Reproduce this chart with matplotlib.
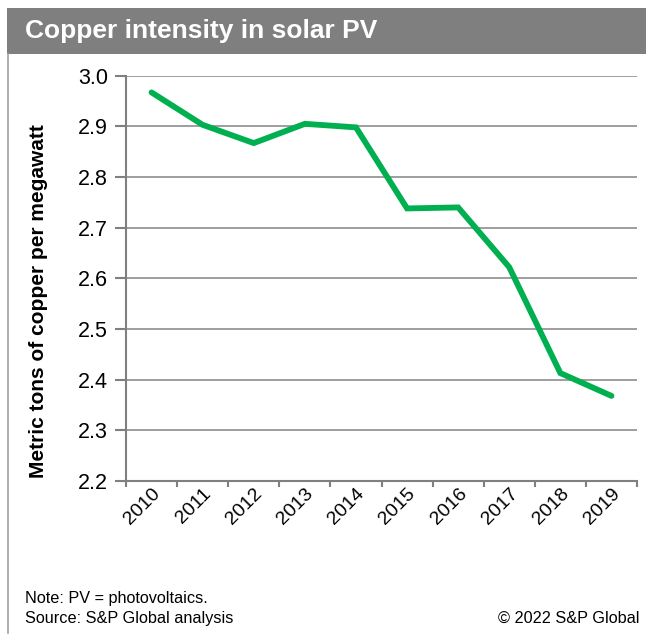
import matplotlib
matplotlib.use("agg")
import matplotlib.pyplot as plt
from matplotlib.patches import Rectangle
from matplotlib.lines import Line2D

plt.rcParams["font.family"] = ["Liberation Sans", "DejaVu Sans"]

# Data
years = ["2010", "2011", "2012", "2013", "2014", "2015", "2016", "2017", "2018", "2019"]
copper = [2.967, 2.903, 2.867, 2.905, 2.898, 2.738, 2.740, 2.622, 2.413, 2.368]
y_ticks = [2.2, 2.3, 2.4, 2.5, 2.6, 2.7, 2.8, 2.9, 3.0]

grey = "#808080"

fig = plt.figure(figsize=(6.46, 6.37), dpi=100)

# Title bar and frame
fig.patches.append(Rectangle((7 / 646, 1 - 54 / 637), 1, 46 / 637,
                             transform=fig.transFigure, facecolor="#7f7f7f",
                             edgecolor="none"))
fig.lines.append(Line2D([8 / 646, 8 / 646], [1 - 54 / 637, 1 - 633 / 637],
                        transform=fig.transFigure, color="#a0a0a0", lw=1.2))
fig.text(25 / 646, 1 - 31 / 637, "Copper intensity in solar PV", color="white",
         fontsize=19, fontweight="bold", va="center", ha="left")

ax = fig.add_axes([126 / 646, 1 - 481 / 637, 511 / 646, 405.3 / 637])
x = range(len(years))
ax.plot(x, copper, color="#00b050", lw=4.2, solid_capstyle="round",
        solid_joinstyle="miter")

ax.set_xlim(-0.5, len(years) - 0.5)
ax.set_ylim(2.2, 3.0)
ax.set_yticks(y_ticks)
ax.set_yticklabels([f"{v:.1f}" for v in y_ticks], fontsize=15.5)
ax.set_xticks([i - 0.5 for i in range(len(years) + 1)])
ax.set_xticklabels([])
ax.set_xticks(list(x), minor=True)
ax.set_xticklabels(years, minor=True, rotation=45, ha="right",
                   rotation_mode="anchor", fontsize=14)
ax.tick_params(axis="x", which="minor", length=0, pad=3)
ax.tick_params(axis="x", which="major", length=4, width=1.5, color=grey)
ax.tick_params(axis="y", length=8, width=1.5, color=grey, pad=5)

ax.grid(axis="y", color="#969696", lw=1.3)
ax.set_axisbelow(True)
for s in ["top", "right"]:
    ax.spines[s].set_visible(False)
for s in ["left", "bottom"]:
    ax.spines[s].set_color(grey)
    ax.spines[s].set_linewidth(1.5)

ax.set_ylabel("Metric tons of copper per megawatt", fontsize=15,
              fontweight="bold", va="center")
ax.yaxis.set_label_coords(-0.172, 0.444)

fig.text(25 / 646, 1 - 598 / 637, "Note: PV = photovoltaics.", fontsize=11.7,
         va="center", ha="left")
fig.text(25 / 646, 1 - 618 / 637, "Source: S&P Global analysis", fontsize=11.7,
         va="center", ha="left")
fig.text(640 / 646, 1 - 618 / 637, "\u00a9 2022 S&P Global", fontsize=11.7,
         va="center", ha="right")

fig.savefig("out.png", dpi=100)
